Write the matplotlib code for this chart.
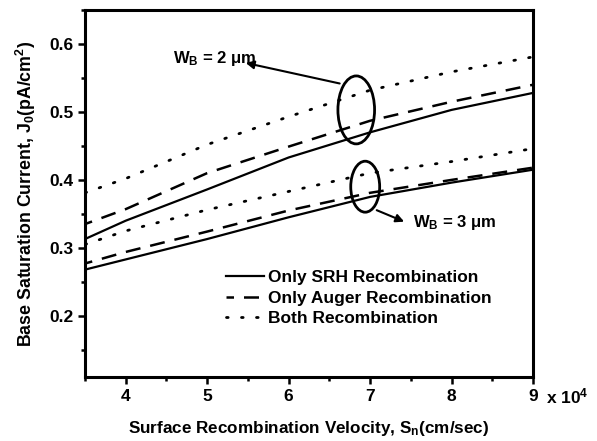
import matplotlib
matplotlib.use('Agg')
import matplotlib.pyplot as plt
from matplotlib.patches import Ellipse
from matplotlib.ticker import MultipleLocator

plt.rcParams['font.family'] = ['Liberation Sans', 'DejaVu Sans']
plt.rcParams['font.weight'] = 'bold'
plt.rcParams['mathtext.default'] = 'regular'

# Surface recombination velocity (x 10^4 cm/sec)
sn = [3.5, 4, 5, 6, 7, 8, 9]

# Base saturation current J0 (pA/cm^2)
srh_2um = [0.313, 0.340, 0.386, 0.433, 0.470, 0.503, 0.528]
auger_2um = [0.335, 0.357, 0.410, 0.449, 0.487, 0.515, 0.540]
both_2um = [0.381, 0.402, 0.452, 0.493, 0.532, 0.559, 0.581]
srh_3um = [0.268, 0.283, 0.313, 0.345, 0.375, 0.396, 0.415]
auger_3um = [0.277, 0.294, 0.324, 0.355, 0.381, 0.400, 0.418]
both_3um = [0.305, 0.325, 0.356, 0.383, 0.410, 0.427, 0.446]

legend = ['Only SRH Recombination', 'Only Auger Recombination', 'Both Recombination']
xtick_labels = ['4', '5', '6', '7', '8', '9']

fig = plt.figure(figsize=(5.97, 4.41), dpi=100)
fig.subplots_adjust(left=85/597, right=533/597, top=1-10/441, bottom=1-377/441)
ax = fig.add_subplot(111)

solid = dict(color='black', lw=1.6, ls='-')
dashed = dict(color='black', lw=1.8, ls=(3, (6, 4)))
dotted = dict(color='black', lw=2.0, ls=(0, (0.6, 4.8)), dash_capstyle='round')

l1, = ax.plot(sn, srh_2um, **solid)
l2, = ax.plot(sn, auger_2um, **dashed)
l3, = ax.plot(sn, both_2um, **dotted)
ax.plot(sn, srh_3um, **solid)
ax.plot(sn, auger_3um, **dashed)
ax.plot(sn, both_3um, **dotted)

# ellipses grouping the curves
ax.add_patch(Ellipse((6.83, 0.503), 0.45, 0.10, fill=False, lw=2, color='black'))
ax.add_patch(Ellipse((6.94, 0.39), 0.355, 0.075, fill=False, lw=2, color='black'))

ax.annotate('', xy=(5.44, 0.573), xytext=(6.66, 0.541),
            arrowprops=dict(arrowstyle='-|>', color='black', lw=1.5, mutation_scale=12))
ax.text(4.58, 0.578, r'W$_B$ = 2 $\mu$m', fontsize=12, fontweight='bold', va='center')
ax.annotate('', xy=(7.45, 0.337), xytext=(7.05, 0.357),
            arrowprops=dict(arrowstyle='-|>', color='black', lw=1.5, mutation_scale=12))
ax.text(7.53, 0.338, r'W$_B$ = 3 $\mu$m', fontsize=12, fontweight='bold', va='center')

ax.set_xlim(3.5, 9)
ax.set_ylim(0.11, 0.65)
ax.xaxis.set_major_locator(MultipleLocator(1))
ax.xaxis.set_minor_locator(MultipleLocator(0.5))
ax.yaxis.set_major_locator(MultipleLocator(0.1))
ax.yaxis.set_minor_locator(MultipleLocator(0.05))
ax.set_xticks([4, 5, 6, 7, 8, 9])
ax.set_xticklabels(xtick_labels)
ax.set_yticks([0.2, 0.3, 0.4, 0.5, 0.6])
ax.tick_params(which='both', direction='out', width=1.8, top=False, right=False)
ax.tick_params(which='major', length=5, labelsize=12.5)
ax.tick_params(which='minor', length=3)
for lab in ax.get_xticklabels() + ax.get_yticklabels():
    lab.set_fontweight('bold')
for sp in ax.spines.values():
    sp.set_linewidth(2.2)

ax.text(1.028, -0.053, r'x 10$^4$', transform=ax.transAxes, fontsize=12.5,
        fontweight='bold', va='center', ha='left')

ax.set_xlabel(r'Surface Recombination Velocity, S$_n$(cm/sec)', fontsize=12.3,
              fontweight='bold', labelpad=11)
ax.set_ylabel(r'Base Saturation Current, J$_0$(pA/cm$^2$)', fontsize=12.8,
              fontweight='bold', labelpad=8)

ax.legend([l1, l2, l3], legend, loc='center left', bbox_to_anchor=(0.28, 0.215),
          frameon=False, handlelength=2.2, handletextpad=0.2,
          labelspacing=0.3, prop={'weight': 'bold', 'size': 12.5})

fig.savefig('out.png', dpi=100)
